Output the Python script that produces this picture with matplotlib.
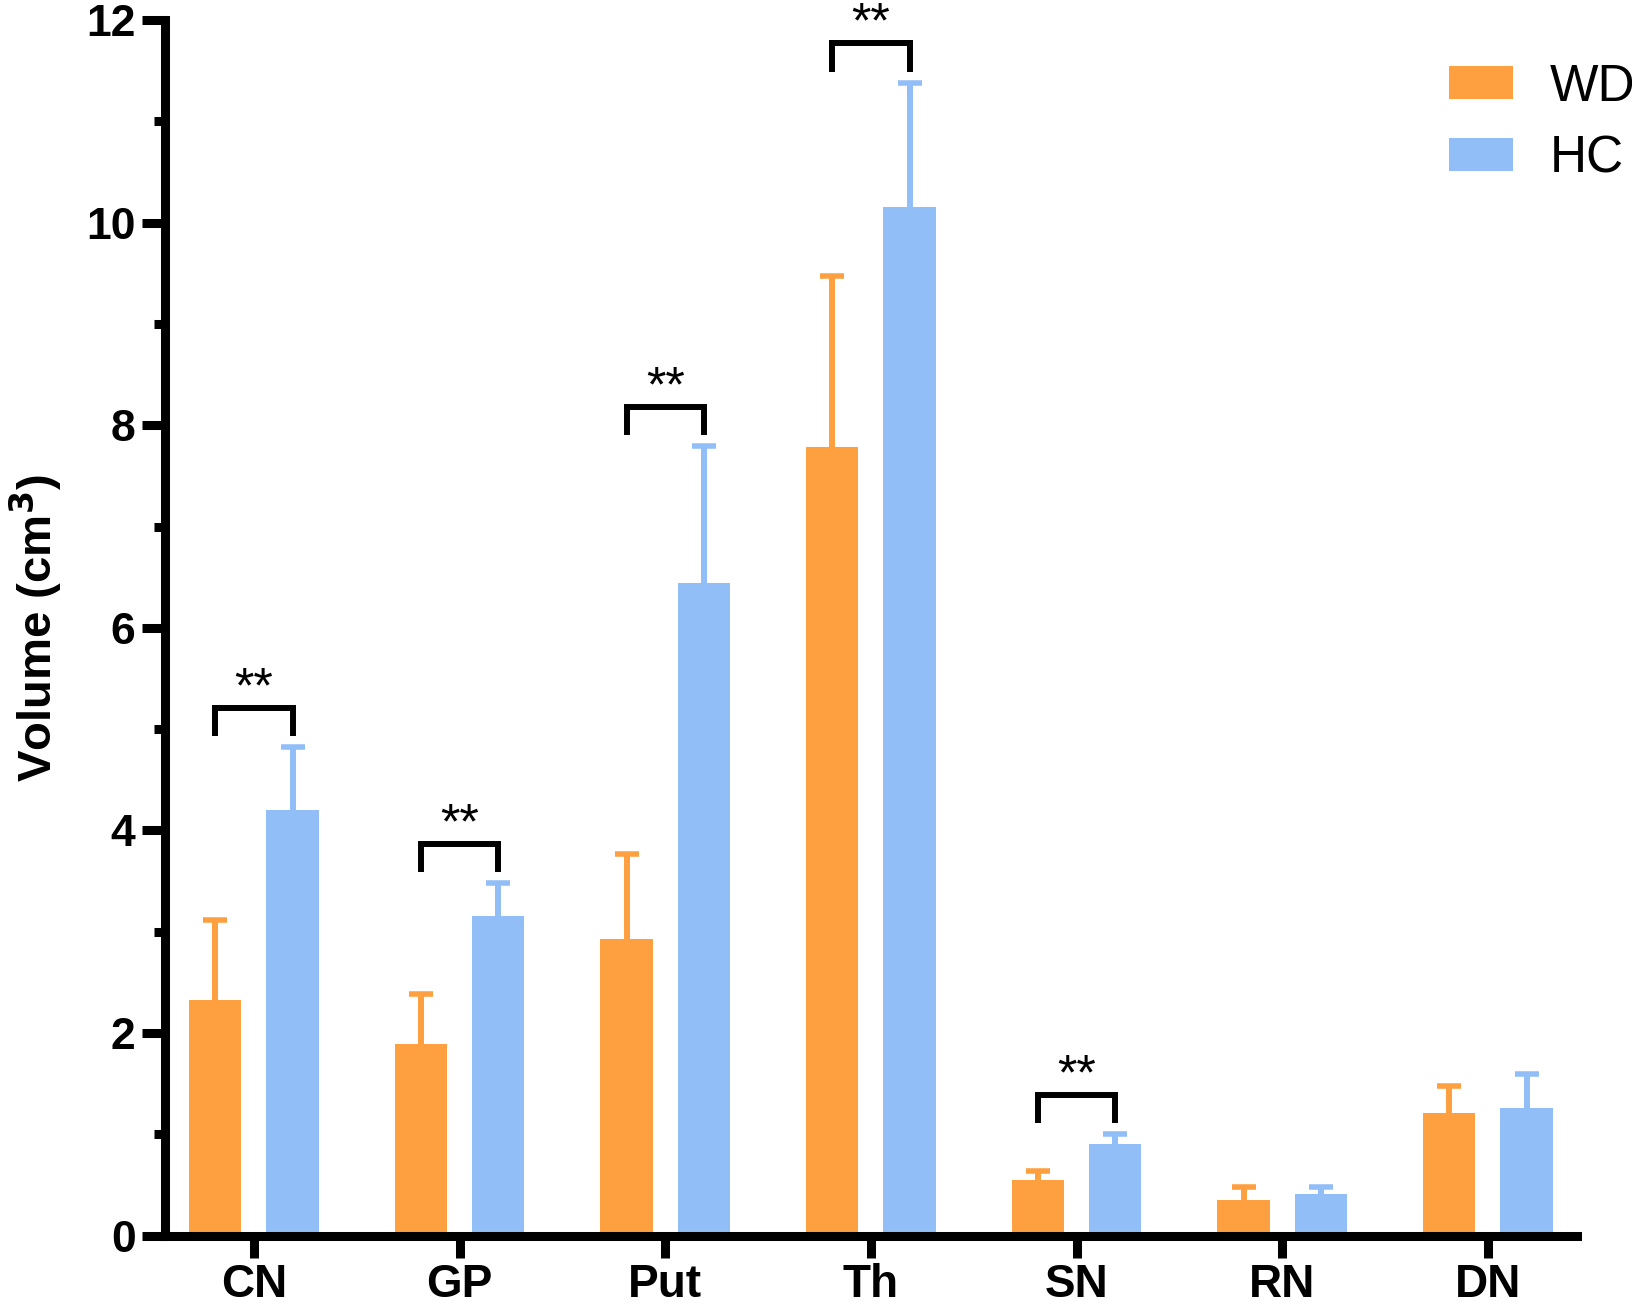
import matplotlib
matplotlib.use("Agg")
import matplotlib.pyplot as plt
import numpy as np

plt.rcParams['font.family'] = ['Liberation Sans', 'DejaVu Sans']

categories = ["CN", "GP", "Put", "Th", "SN", "RN", "DN"]
wd_mean = [2.33, 1.89, 2.93, 7.78, 0.55, 0.35, 1.21]
wd_sd   = [0.79, 0.50, 0.84, 1.69, 0.09, 0.13, 0.27]
hc_mean = [4.20, 3.16, 6.44, 10.15, 0.905, 0.41, 1.26]
hc_sd   = [0.62, 0.32, 1.35, 1.23, 0.095, 0.07, 0.34]
sig_pairs = ["CN", "GP", "Put", "Th", "SN"]
sig_label = "**"

wd_color = "#FE9F40"
hc_color = "#92BEF7"

fig = plt.figure(figsize=(16.33, 13.13), dpi=100)
ax = fig.add_axes([0.1013, 0.0589, 0.9657 - 0.1013, 0.9848 - 0.0589])

x = np.arange(len(categories))
w = 0.254
off = 0.188

b1 = ax.bar(x - off, wd_mean, w, color=wd_color, label="WD", zorder=2)
b2 = ax.bar(x + off, hc_mean, w, color=hc_color, label="HC", zorder=2)

for xs, m, s, c in [(x - off, wd_mean, wd_sd, wd_color), (x + off, hc_mean, hc_sd, hc_color)]:
    cont = ax.errorbar(xs, m, yerr=[np.zeros(len(s)), s], fmt='none', ecolor=c,
                       elinewidth=4.3, capsize=8.9, capthick=4.0, zorder=1.5)
    caps = cont[1]
    if len(caps) == 2:
        caps[0].set_visible(False)

# significance brackets
for cat in sig_pairs:
    i = categories.index(cat)
    y0 = hc_mean[i] + hc_sd[i] + 0.11
    y1 = y0 + 0.28
    xl, xr = x[i] - off, x[i] + off
    ax.plot([xl, xl, xr, xr], [y0, y1, y1, y0], color='black', lw=4.3,
            solid_joinstyle='miter', solid_capstyle='butt', zorder=3, clip_on=False)
    ax.annotate(sig_label, xy=(x[i], y1), xytext=(0, 4), textcoords='offset points',
                ha='center', va='baseline', fontsize=36, annotation_clip=False)

ax.set_xlim(-0.430, 6.433)
ax.set_ylim(0, 12)
ax.set_xticks(x)
ax.set_xticklabels(categories, fontsize=33, fontweight='bold')
ax.set_yticks(np.arange(0, 13, 2))
ax.set_yticklabels([str(v) for v in range(0, 13, 2)], fontsize=32, fontweight='bold')
ax.set_yticks(np.arange(1, 12, 2), minor=True)

for sp in ['top', 'right']:
    ax.spines[sp].set_visible(False)
for sp in ['left', 'bottom']:
    ax.spines[sp].set_linewidth(6.5)
    ax.spines[sp].set_zorder(4)
ax.tick_params(axis='y', which='major', length=16.5, width=6.5, pad=5)
ax.tick_params(axis='y', which='minor', length=8, width=6.5)
ax.tick_params(axis='x', which='major', length=16, width=6.5, pad=4)

ax.set_ylabel("Volume (cm$^\\mathbf{3}$)", fontsize=34, fontweight='bold', labelpad=16)

leg = ax.legend(handles=[b1, b2], loc='upper left', bbox_to_anchor=(0.909, 0.965),
                frameon=False, fontsize=37, handlelength=1.25, handleheight=0.6,
                handletextpad=0.72, labelspacing=0.45, borderpad=0, borderaxespad=0)

fig.savefig("out.png", dpi=100)
